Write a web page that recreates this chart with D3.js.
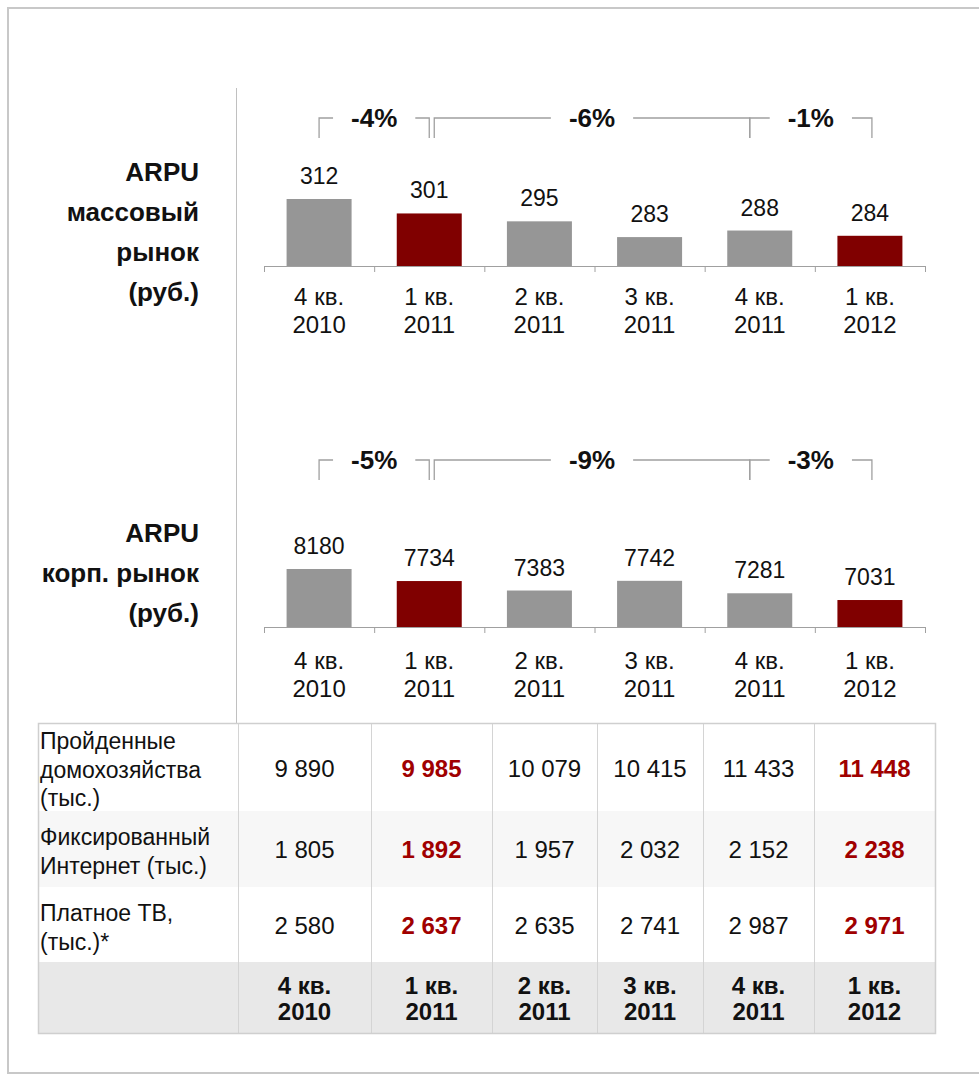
<!DOCTYPE html>
<html>
<head>
<meta charset="utf-8">
<script src="https://cdn.jsdelivr.net/npm/d3@7"></script>
<style>
  html, body { margin: 0; background: #fff; overflow: hidden; }
  svg { display: block; overflow: hidden; font-family: "Liberation Sans", Arial, sans-serif; }
</style>
</head>
<body>
<div id="chart"></div>
<script>
"use strict";

// data
var quarters = ["4 кв.", "1 кв.", "2 кв.", "3 кв.", "4 кв.", "1 кв."];
var years = ["2010", "2011", "2011", "2011", "2011", "2012"];
var highlight = [1, 5];

var arpuMass = [312, 301, 295, 283, 288, 284];
var arpuCorp = [8180, 7734, 7383, 7742, 7281, 7031];

var massTitle = ["ARPU", "массовый", "рынок", "(руб.)"];
var corpTitle = ["ARPU", "корп. рынок", "(руб.)"];

var massChanges = [
  { label: "-4%", from: 0, to: 1 },
  { label: "-6%", from: 1, to: 4 },
  { label: "-1%", from: 4, to: 5 }
];
var corpChanges = [
  { label: "-5%", from: 0, to: 1 },
  { label: "-9%", from: 1, to: 4 },
  { label: "-3%", from: 4, to: 5 }
];

var rowLabels = [
  ["Пройденные", "домохозяйства", "(тыс.)"],
  ["Фиксированный", "Интернет (тыс.)"],
  ["Платное ТВ,", "(тыс.)*"]
];
var households = [9890, 9985, 10079, 10415, 11433, 11448];
var internet = [1805, 1892, 1957, 2032, 2152, 2238];
var payTv = [2580, 2637, 2635, 2741, 2987, 2971];

// layout
var W = 979, H = 1074;
var grey = "#969696", red = "#800000", textRed = "#a00000";
var bracketNudge = [[0, 0], [5, -10], [-10, 2]];

var svg = d3.select("#chart").append("svg")
    .attr("width", W)
    .attr("height", H);

// frame: left, top and bottom edges (right edge is off the picture)
svg.append("path")
    .attr("d", "M" + W + ",8H8V1073H" + W)
    .attr("fill", "none")
    .attr("stroke", "#c8c8c8")
    .attr("stroke-width", 2);

svg.append("line")
    .attr("x1", 236.5).attr("x2", 236.5)
    .attr("y1", 88).attr("y2", 723)
    .attr("stroke", "#c0c0c0");

var x = d3.scaleBand().domain(d3.range(6)).range([264, 925]).padding(0);
var xEdge = d3.scaleLinear().domain([0, 6]).range([264, 925]);
var barW = 65;
var fmt = d3.formatLocale({ decimal: ",", thousands: " ", grouping: [3] }).format(",d");

function isHi(i) { return highlight.indexOf(i) >= 0; }
function cx(i) { return x(i) + x.bandwidth() / 2; }

function drawPanel(values, yDomain, base, barTopMin, title, titleY, changes, brY, catY) {
  var y = d3.scaleLinear().domain(yDomain).range([base, barTopMin]);
  var g = svg.append("g");

  g.selectAll("rect.bar")
      .data(values)
    .enter().append("rect")
      .attr("class", "bar")
      .attr("x", function(d, i) { return cx(i) - barW / 2; })
      .attr("width", barW)
      .attr("y", function(d) { return y(d); })
      .attr("height", function(d) { return base - y(d); })
      .attr("fill", function(d, i) { return isHi(i) ? red : grey; });

  g.selectAll("text.val")
      .data(values)
    .enter().append("text")
      .attr("class", "val")
      .attr("x", function(d, i) { return cx(i); })
      .attr("y", function(d) { return y(d) - 15; })
      .attr("text-anchor", "middle")
      .style("font-size", "23px")
      .attr("fill", "#111")
      .text(function(d) { return d; });

  // axis with ticks on category edges
  var ax = g.append("g")
      .attr("transform", "translate(0," + base + ")")
      .call(d3.axisBottom(xEdge).tickValues(d3.range(7)).tickFormat("").tickSizeInner(6).tickSizeOuter(0));
  ax.select(".domain").attr("stroke", "#a0a0a0");
  ax.selectAll(".tick line").attr("stroke", "#a0a0a0");

  var cat = g.selectAll("text.cat")
      .data(quarters)
    .enter().append("text")
      .attr("class", "cat")
      .attr("text-anchor", "middle")
      .style("font-size", "24px")
      .attr("fill", "#111");
  cat.append("tspan")
      .attr("x", function(d, i) { return cx(i); })
      .attr("y", catY)
      .text(function(d) { return d; });
  cat.append("tspan")
      .attr("x", function(d, i) { return cx(i); })
      .attr("y", catY + 28)
      .text(function(d, i) { return years[i]; });

  g.selectAll("text.title")
      .data(title)
    .enter().append("text")
      .attr("class", "title")
      .attr("x", 199)
      .attr("y", function(d, i) { return titleY + i * 40; })
      .attr("text-anchor", "end")
      .style("font-size", "26px")
      .style("font-weight", "bold")
      .attr("fill", "#111")
      .text(function(d) { return d; });

  // change brackets
  changes.forEach(function(c, i) {
    var x1 = cx(c.from) + bracketNudge[i][0],
        x2 = cx(c.to) + bracketNudge[i][1],
        mid = (x1 + x2) / 2;
    g.append("path")
        .attr("d", "M" + x1 + "," + (brY + 20) + "V" + brY + "H" + x2 + "V" + (brY + 20))
        .attr("fill", "none")
        .attr("stroke", "#a0a0a0")
        .attr("stroke-width", 1.3);
    var t = g.append("text")
        .attr("x", mid)
        .attr("y", brY + 9)
        .attr("text-anchor", "middle")
        .style("font-size", "26px")
        .style("font-weight", "bold")
        .attr("fill", "#111")
        .text(c.label);
    var tw = t.node().getComputedTextLength();
    g.insert("rect", function() { return t.node(); })
        .attr("x", mid - tw / 2 - 18)
        .attr("y", brY - 4)
        .attr("width", tw + 36)
        .attr("height", 8)
        .attr("fill", "#fff");
  });
}

drawPanel(arpuMass, [261, 312], 266, 199, massTitle, 181, massChanges, 118, 305);
drawPanel(arpuCorp, [6032, 8180], 627, 569, corpTitle, 542, corpChanges, 460, 669);

// table
var colX = [38, 238, 371, 492, 597, 703, 814, 935];
var rowY = [723, 811, 887, 962, 1033];
var rowFill = ["#ffffff", "#f7f7f7", "#ffffff", "#e8e8e8"];
var tableData = [households, internet, payTv];

var tbl = svg.append("g");
tbl.selectAll("rect.row")
    .data(rowFill)
  .enter().append("rect")
    .attr("x", colX[0])
    .attr("y", function(d, i) { return rowY[i]; })
    .attr("width", colX[7] - colX[0])
    .attr("height", function(d, i) { return rowY[i + 1] - rowY[i]; })
    .attr("fill", function(d) { return d; });

tbl.selectAll("line.col")
    .data(colX.slice(1, 7))
  .enter().append("line")
    .attr("x1", function(d) { return d + 0.5; })
    .attr("x2", function(d) { return d + 0.5; })
    .attr("y1", rowY[0]).attr("y2", rowY[4])
    .attr("stroke", "#d4d4d4");

tbl.append("rect")
    .attr("x", colX[0] + 0.5).attr("y", rowY[0] + 0.5)
    .attr("width", colX[7] - colX[0]).attr("height", rowY[4] - rowY[0])
    .attr("fill", "none")
    .attr("stroke", "#cfcfcf")
    .attr("stroke-width", 1.5);

var labelBase = [749, 845, 921];
var valBase = [777, 858, 934];

rowLabels.forEach(function(lines, r) {
  tbl.selectAll(null)
      .data(lines)
    .enter().append("text")
      .attr("x", 40)
      .attr("y", function(d, i) { return labelBase[r] + i * 28.5; })
      .style("font-size", "23px")
      .attr("fill", "#111")
      .text(function(d) { return d; });

  tbl.selectAll(null)
      .data(tableData[r])
    .enter().append("text")
      .attr("x", function(d, i) { return (colX[i + 1] + colX[i + 2]) / 2; })
      .attr("y", valBase[r])
      .attr("text-anchor", "middle")
      .style("font-size", "24px")
      .style("font-weight", function(d, i) { return isHi(i) ? "bold" : "normal"; })
      .attr("fill", function(d, i) { return isHi(i) ? textRed : "#111"; })
      .text(function(d) { return fmt(d); });
});

var head = tbl.selectAll("text.head")
    .data(quarters)
  .enter().append("text")
    .attr("class", "head")
    .attr("text-anchor", "middle")
    .style("font-size", "24px")
    .style("font-weight", "bold")
    .attr("fill", "#111");
head.append("tspan")
    .attr("x", function(d, i) { return (colX[i + 1] + colX[i + 2]) / 2; })
    .attr("y", 994)
    .text(function(d) { return d; });
head.append("tspan")
    .attr("x", function(d, i) { return (colX[i + 1] + colX[i + 2]) / 2; })
    .attr("y", 1020)
    .text(function(d, i) { return years[i]; });
</script>
</body>
</html>
